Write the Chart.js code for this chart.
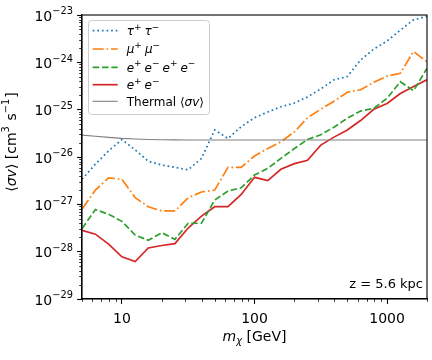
<!DOCTYPE html>
<html>
<head>
<meta charset="utf-8">
<script src="https://cdn.jsdelivr.net/npm/chart.js@4.4.1/dist/chart.umd.min.js"></script>
<style>
html,body{margin:0;padding:0;background:#fff;}
#wrap{width:432px;height:360px;}
</style>
</head>
<body>
<div id="wrap"><canvas id="c" width="432" height="360"></canvas></div>
<script>
// ---- data ----
const masses = [5.01, 6.31, 7.94, 10, 12.6, 15.8, 20, 25.1, 31.6, 39.8, 50.1, 63.1, 79.4, 100,
  126, 158, 200, 251, 316, 398, 501, 631, 794, 1000, 1259, 1585, 1995];
const tauTau = [3.39e-27, 7.08e-27, 1.35e-26, 2.34e-26, 1.41e-26, 8.13e-27, 6.76e-27, 6.03e-27, 5.37e-27,
  9.33e-27, 3.72e-26, 2.45e-26, 4.37e-26, 6.76e-26, 8.91e-26, 1.15e-25, 1.38e-25, 1.86e-25, 2.75e-25,
  4.27e-25, 5.01e-25, 1.12e-24, 1.91e-24, 2.82e-24, 4.79e-24, 7.94e-24, 9.33e-24];
const muMu = [7.94e-28, 2.0e-27, 3.63e-27, 3.39e-27, 1.38e-27, 8.91e-28, 7.24e-28, 7.24e-28, 1.38e-27,
  1.82e-27, 2.0e-27, 6.03e-27, 6.03e-27, 1.05e-26, 1.51e-26, 2.09e-26, 3.39e-26, 6.76e-26, 1.02e-25,
  1.51e-25, 2.34e-25, 2.63e-25, 3.8e-25, 5.13e-25, 5.89e-25, 1.70e-24, 1.02e-24];
const eeee = [3.09e-28, 7.76e-28, 6.17e-28, 4.37e-28, 2.24e-28, 1.74e-28, 2.51e-28, 1.82e-28, 3.98e-28,
  3.98e-28, 1.23e-27, 1.91e-27, 2.24e-27, 4.17e-27, 5.75e-27, 9.33e-27, 1.51e-26, 2.34e-26, 2.95e-26,
  4.27e-26, 6.61e-26, 9.33e-26, 1.07e-25, 1.74e-25, 3.89e-25, 2.51e-25, 7.41e-25];
const ee = [2.82e-28, 2.34e-28, 1.45e-28, 7.76e-29, 6.17e-29, 1.20e-28, 1.35e-28, 1.48e-28, 3.16e-28,
  5.62e-28, 8.91e-28, 8.91e-28, 1.62e-27, 3.72e-27, 3.16e-27, 5.50e-27, 7.24e-27, 8.51e-27, 1.78e-26,
  2.63e-26, 3.72e-26, 5.89e-26, 1.02e-25, 1.35e-25, 2.19e-25, 3.09e-25, 4.27e-25];
const thermal = [2.9e-26, 2.75e-26, 2.6e-26, 2.47e-26, 2.4e-26, 2.35e-26, 2.32e-26, 2.3e-26, 2.28e-26,
  2.28e-26, 2.28e-26, 2.28e-26, 2.28e-26, 2.28e-26, 2.28e-26, 2.28e-26, 2.28e-26, 2.28e-26, 2.28e-26,
  2.28e-26, 2.28e-26, 2.28e-26, 2.28e-26, 2.28e-26, 2.28e-26, 2.28e-26, 2.28e-26];

const seriesLabels = ['τ⁺τ⁻', 'μ⁺μ⁻', 'e⁺e⁻e⁺e⁻', 'e⁺e⁻', 'Thermal ⟨σv⟩'];
const xMajorTicks = [10, 100, 1000];
const xMinorTicks = [5, 6, 7, 8, 9, 20, 30, 40, 50, 60, 70, 80, 90, 200, 300, 400, 500, 600, 700, 800, 900, 2000];
const yMajorTicks = [1e-29, 1e-28, 1e-27, 1e-26, 1e-25, 1e-24, 1e-23];
const annotationText = 'z = 5.6 kpc';
const xTitle = 'mᵪ [GeV]';
const yTitle = '⟨σv⟩ [cm³ s⁻¹]';

// ---- styles ----
const FONT = "'DejaVu Sans', sans-serif";
const colors = ['#1f77b4', '#ff7f0e', '#2ca02c', '#d62728', '#808080'];
const dashes = [[1.7, 2.9], [11, 2.8, 1.7, 2.8], [6.5, 2.8], [], []];
const widths = [1.7, 1.7, 1.7, 1.7, 1.1];

// rich-text segments for mathtext-like rendering
const M = '−';
const legendRich = [
  [{t: 'τ', it: 1}, {t: '+', sup: 1}, {t: 'τ', it: 1}, {t: M, sup: 1}],
  [{t: 'μ', it: 1}, {t: '+', sup: 1}, {t: 'μ', it: 1}, {t: M, sup: 1}],
  [{t: 'e', it: 1}, {t: '+', sup: 1}, {t: 'e', it: 1}, {t: M, sup: 1}, {t: 'e', it: 1}, {t: '+', sup: 1}, {t: 'e', it: 1}, {t: M, sup: 1}],
  [{t: 'e', it: 1}, {t: '+', sup: 1}, {t: 'e', it: 1}, {t: M, sup: 1}],
  [{t: 'Thermal '}, {t: '⟨'}, {t: 'σv', it: 1}, {t: '⟩'}]
];
const xTitleRich = [{t: 'm', it: 1}, {t: 'χ', it: 1, sub: 1}, {t: ' [GeV]'}];
const yTitleRich = [{t: '⟨'}, {t: 'σv', it: 1}, {t: '⟩ [cm'}, {t: '3', sup: 1}, {t: ' s'}, {t: M + '1', sup: 1}, {t: ']'}];

function segFont(s, size, supScale) {
  const sz = (s.sup || s.sub) ? size * supScale : size;
  return (s.it ? 'italic ' : '') + sz + 'px ' + FONT;
}
function drawRich(ctx, segs, x, y, size, align, opt) {
  const o = Object.assign({supScale: 0.7, gap: 0.08}, opt || {});
  let w = 0;
  segs.forEach(s => { ctx.font = segFont(s, size, o.supScale); w += ctx.measureText(s.t).width + (s.sup ? size * o.gap : 0); });
  let cx = align === 'right' ? x - w : align === 'center' ? x - w / 2 : x;
  ctx.textAlign = 'left';
  ctx.textBaseline = 'alphabetic';
  segs.forEach(s => {
    ctx.font = segFont(s, size, o.supScale);
    let dy = 0;
    if (s.sup) dy = -size * 0.45;
    if (s.sub) dy = size * 0.2;
    ctx.fillText(s.t, cx, y + dy);
    cx += ctx.measureText(s.t).width + (s.sup ? size * o.gap : 0);
  });
}
function expSegs(v) {
  const e = Math.round(Math.log10(v));
  return [{t: '10'}, {t: String(e).replace('-', M), sup: 1}];
}

const seriesData = [tauTau, muMu, eeee, ee, thermal];
const datasets = seriesData.map((arr, i) => ({
  label: seriesLabels[i],
  data: masses.map((m, k) => ({x: m, y: arr[k]})),
  borderColor: colors[i],
  borderWidth: widths[i],
  borderDash: dashes[i],
  borderCapStyle: 'butt',
  pointRadius: 0,
  tension: 0,
  fill: false,
  order: i === 4 ? 0 : i + 1
}));

const extras = {
  id: 'extras',
  afterDraw(chart) {
    const ctx = chart.ctx, a = chart.chartArea;
    const xs = chart.scales.x, ys = chart.scales.y;
    ctx.save();
    // frame
    ctx.strokeStyle = '#000';
    ctx.lineWidth = 1.1;
    ctx.strokeRect(a.left, a.top, a.right - a.left, a.bottom - a.top);
    // minor ticks
    ctx.lineWidth = 0.8;
    xMinorTicks.forEach(v => {
      const px = Math.round(xs.getPixelForValue(v)) + 0.5;
      ctx.beginPath(); ctx.moveTo(px, a.bottom); ctx.lineTo(px, a.bottom + 2.8); ctx.stroke();
    });
    for (let d = -29; d < -23; d++) {
      for (let m = 2; m <= 9; m++) {
        const py = Math.round(ys.getPixelForValue(m * Math.pow(10, d))) + 0.5;
        ctx.beginPath(); ctx.moveTo(a.left, py); ctx.lineTo(a.left - 2.8, py); ctx.stroke();
      }
    }
    ctx.fillStyle = '#000';
    // tick labels
    xMajorTicks.forEach(v => {
      ctx.font = '14px ' + FONT;
      ctx.textAlign = 'center';
      ctx.textBaseline = 'alphabetic';
      ctx.fillText(String(v), xs.getPixelForValue(v), a.bottom + 24);
    });
    yMajorTicks.forEach(v => {
      drawRich(ctx, expSegs(v), a.left - 8, ys.getPixelForValue(v) + 5.5, 14, 'right');
    });
    // axis titles
    drawRich(ctx, xTitleRich, (a.left + a.right) / 2, 341, 14, 'center');
    ctx.save();
    ctx.translate(15.5, 142);
    ctx.rotate(-Math.PI / 2);
    drawRich(ctx, yTitleRich, 0, 0, 14, 'center');
    ctx.restore();
    // annotation
    ctx.font = '13px ' + FONT;
    ctx.textAlign = 'right';
    ctx.textBaseline = 'alphabetic';
    ctx.fillText(annotationText, a.right - 4, a.bottom - 11);
    // legend
    const bx = 88.5, by = 20.5, bw = 121, bh = 94, r = 3;
    ctx.beginPath();
    ctx.moveTo(bx + r, by); ctx.lineTo(bx + bw - r, by); ctx.quadraticCurveTo(bx + bw, by, bx + bw, by + r);
    ctx.lineTo(bx + bw, by + bh - r); ctx.quadraticCurveTo(bx + bw, by + bh, bx + bw - r, by + bh);
    ctx.lineTo(bx + r, by + bh); ctx.quadraticCurveTo(bx, by + bh, bx, by + bh - r);
    ctx.lineTo(bx, by + r); ctx.quadraticCurveTo(bx, by, bx + r, by);
    ctx.closePath();
    ctx.fillStyle = 'rgba(255,255,255,0.8)';
    ctx.fill();
    ctx.strokeStyle = '#cccccc';
    ctx.lineWidth = 1;
    ctx.stroke();
    const rowY = [30.7, 49, 67.3, 84.7, 101.3];
    chart.data.datasets.forEach((ds, i) => {
      ctx.save();
      ctx.strokeStyle = ds.borderColor;
      ctx.lineWidth = ds.borderWidth;
      ctx.setLineDash(ds.borderDash);
      ctx.lineCap = 'butt';
      ctx.beginPath(); ctx.moveTo(92.7, rowY[i]); ctx.lineTo(117.7, rowY[i]); ctx.stroke();
      ctx.restore();
      ctx.fillStyle = '#000';
      drawRich(ctx, legendRich[i], 126.7, rowY[i] + 4.3, 12, 'left', {supScale: 0.75, gap: 0.25});
    });
    ctx.restore();
  }
};

new Chart(document.getElementById('c'), {
  type: 'line',
  data: {datasets},
  plugins: [extras],
  options: {
    responsive: false,
    animation: false,
    devicePixelRatio: 1,
    layout: {padding: {top: 15, right: 5, left: 0, bottom: 0}},
    plugins: {legend: {display: false}, tooltip: {enabled: false}},
    scales: {
      x: {
        type: 'logarithmic', min: 5, max: 2000, position: 'bottom',
        afterBuildTicks: s => { s.ticks = xMajorTicks.map(v => ({value: v})); },
        afterFit: s => { s.height = 61; },
        border: {display: true, color: '#000', width: 1.1},
        grid: {display: true, drawOnChartArea: false, drawTicks: true, tickLength: 4.9, tickWidth: 1.1, tickColor: '#000'},
        ticks: {display: false},
        title: {display: false, text: xTitle}
      },
      y: {
        type: 'logarithmic', min: 1e-29, max: 1e-23,
        afterBuildTicks: s => { s.ticks = yMajorTicks.map(v => ({value: v})); },
        afterFit: s => { s.width = 82; },
        border: {display: true, color: '#000', width: 1.1},
        grid: {display: true, drawOnChartArea: false, drawTicks: true, tickLength: 4.9, tickWidth: 1.1, tickColor: '#000'},
        ticks: {display: false},
        title: {display: false, text: yTitle}
      }
    }
  }
});
</script>
</body>
</html>
